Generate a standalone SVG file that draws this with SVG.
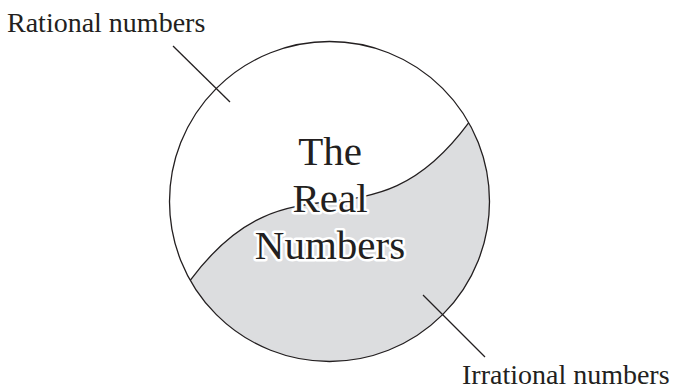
<svg xmlns="http://www.w3.org/2000/svg" width="676" height="390" viewBox="0 0 676 390">
<style>
.ln{fill:none;stroke:#231f20;stroke-width:1.3}
.lbl{font-family:"Liberation Serif","Times New Roman",serif;font-size:28px;fill:#231f20}
.ttl{font-family:"Liberation Serif","Times New Roman",serif;font-size:41px;fill:#231f20;stroke:#ffffff;stroke-width:5;stroke-linejoin:round;paint-order:stroke;text-anchor:middle}
</style>
<rect width="676" height="390" fill="#ffffff"/>
<g id="real-numbers">
<circle cx="329.5" cy="201.5" r="160" fill="#ffffff"/>
<path id="irrational-region" d="M190.2,280.3 C292,144 368,259 468.8,122.7 A160,160 0 0 1 190.2,280.3 Z" fill="#dcdddf"/>
<path class="ln" d="M190.2,280.3 C292,144 368,259 468.8,122.7"/>
<circle class="ln" cx="329.5" cy="201.5" r="160"/>
<text class="ttl" x="330" y="165">The</text>
<text class="ttl" x="330" y="212">Real</text>
<text class="ttl" x="330" y="259">Numbers</text>
</g>
<g id="connectors">
<line class="ln" x1="173" y1="46" x2="230" y2="102"/>
<line class="ln" x1="423" y1="295" x2="485" y2="357"/>
</g>
<g id="rational-label"><text class="lbl" x="7" y="32">Rational numbers</text></g>
<g id="irrational-label"><text class="lbl" x="462" y="384">Irrational numbers</text></g>
</svg>
